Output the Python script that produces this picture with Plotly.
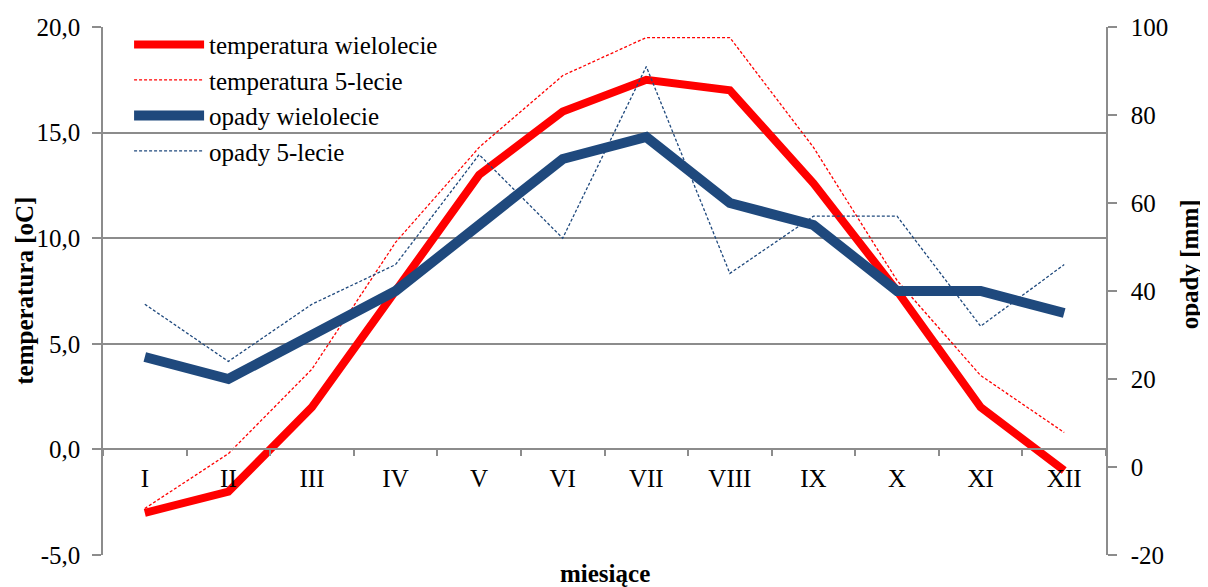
import plotly.graph_objects as go

months = ["I", "II", "III", "IV", "V", "VI", "VII", "VIII", "IX", "X", "XI", "XII"]
temp_wielolecie = [-3.0, -2.0, 2.0, 7.5, 13.0, 16.0, 17.5, 17.0, 12.6, 7.5, 2.0, -1.0]
temp_5lecie = [-2.8, -0.2, 3.8, 9.8, 14.3, 17.7, 19.5, 19.5, 14.3, 8.0, 3.5, 0.8]
opady_wielolecie = [25, 20, 30, 40, 55, 70, 75, 60, 55, 40, 40, 35]
opady_5lecie = [37, 24, 37, 46, 71, 52, 91, 44, 57, 57, 32, 46]

left_ticks = [-5, 0, 5, 10, 15, 20]
left_labels = ["-5,0", "0,0", "5,0", "10,0", "15,0", "20,0"]
right_ticks = [-20, 0, 20, 40, 60, 80, 100]
right_labels = ["-20", "0", "20", "40", "60", "80", "100"]

RED = "#FF0000"
BLUE = "#1F497D"
GRID = "#8C8C8C"
FONT = "Liberation Serif"
FS = 25

fig = go.Figure()
fig.add_trace(go.Scatter(x=months, y=temp_wielolecie, name="temperatura wielolecie",
                         mode="lines", line=dict(color=RED, width=8), yaxis="y"))
fig.add_trace(go.Scatter(x=months, y=temp_5lecie, name="temperatura 5-lecie",
                         mode="lines", line=dict(color=RED, width=1.3, dash="3px,2px"), yaxis="y"))
fig.add_trace(go.Scatter(x=months, y=opady_wielolecie, name="opady wielolecie",
                         mode="lines", line=dict(color=BLUE, width=10), yaxis="y2"))
fig.add_trace(go.Scatter(x=months, y=opady_5lecie, name="opady 5-lecie",
                         mode="lines", line=dict(color=BLUE, width=1.3, dash="3px,2px"), yaxis="y2"))

# page body has an 8px margin, so the figure is sized/offset to compensate
fig.update_layout(
    width=1200, height=579,
    margin=dict(l=95, r=102, t=19, b=32, autoexpand=False),
    paper_bgcolor="white", plot_bgcolor="white",
    font=dict(family=FONT, size=FS, color="black"),
    showlegend=True,
    legend=dict(x=0.026, y=1.01, xanchor="left", yanchor="top",
                bgcolor="rgba(0,0,0,0)", font=dict(family=FONT, size=FS),
                tracegroupgap=0, itemwidth=70),
    xaxis=dict(
        type="category", range=[-0.5, 11.5],
        anchor="free", position=0.2,
        showline=True, linecolor=GRID, linewidth=1.5,
        ticks="outside", tickson="boundaries", ticklen=6, tickcolor=GRID, tickwidth=1.5,
        showgrid=False, zeroline=False,
        ticklabelstandoff=7,
        tickfont=dict(family=FONT, size=FS),
    ),
    yaxis=dict(
        range=[-5, 20], tickvals=left_ticks, ticktext=left_labels,
        showgrid=True, gridcolor=GRID, gridwidth=1.5,
        showline=True, linecolor=GRID, linewidth=1.5,
        ticks="outside", ticklen=9, tickcolor=GRID, tickwidth=1.5,
        zeroline=False, ticklabelstandoff=7,
        tickfont=dict(family=FONT, size=FS),
    ),
    yaxis2=dict(
        range=[-20, 100], tickvals=right_ticks, ticktext=right_labels,
        overlaying="y", side="right", anchor="x",
        showgrid=False, zeroline=False,
        showline=True, linecolor=GRID, linewidth=1.5,
        ticks="outside", ticklen=9, tickcolor=GRID, tickwidth=1.5,
        ticklabelstandoff=9,
        tickfont=dict(family=FONT, size=FS),
    ),
    annotations=[
        dict(text="<b>temperatura [oC]</b>", xref="paper", yref="paper",
             x=-0.079, y=0.5, xanchor="center", yanchor="middle", textangle=-90,
             showarrow=False, font=dict(family=FONT, size=FS)),
        dict(text="<b>opady [mm]</b>", xref="paper", yref="paper",
             x=1.083, y=0.551, xanchor="center", yanchor="middle", textangle=-90,
             showarrow=False, font=dict(family=FONT, size=FS)),
        dict(text="<b>miesiące</b>", xref="paper", yref="paper",
             x=0.5, y=-0.035, xanchor="center", yanchor="middle",
             showarrow=False, font=dict(family=FONT, size=FS)),
    ],
)

fig.write_html("out.html")
